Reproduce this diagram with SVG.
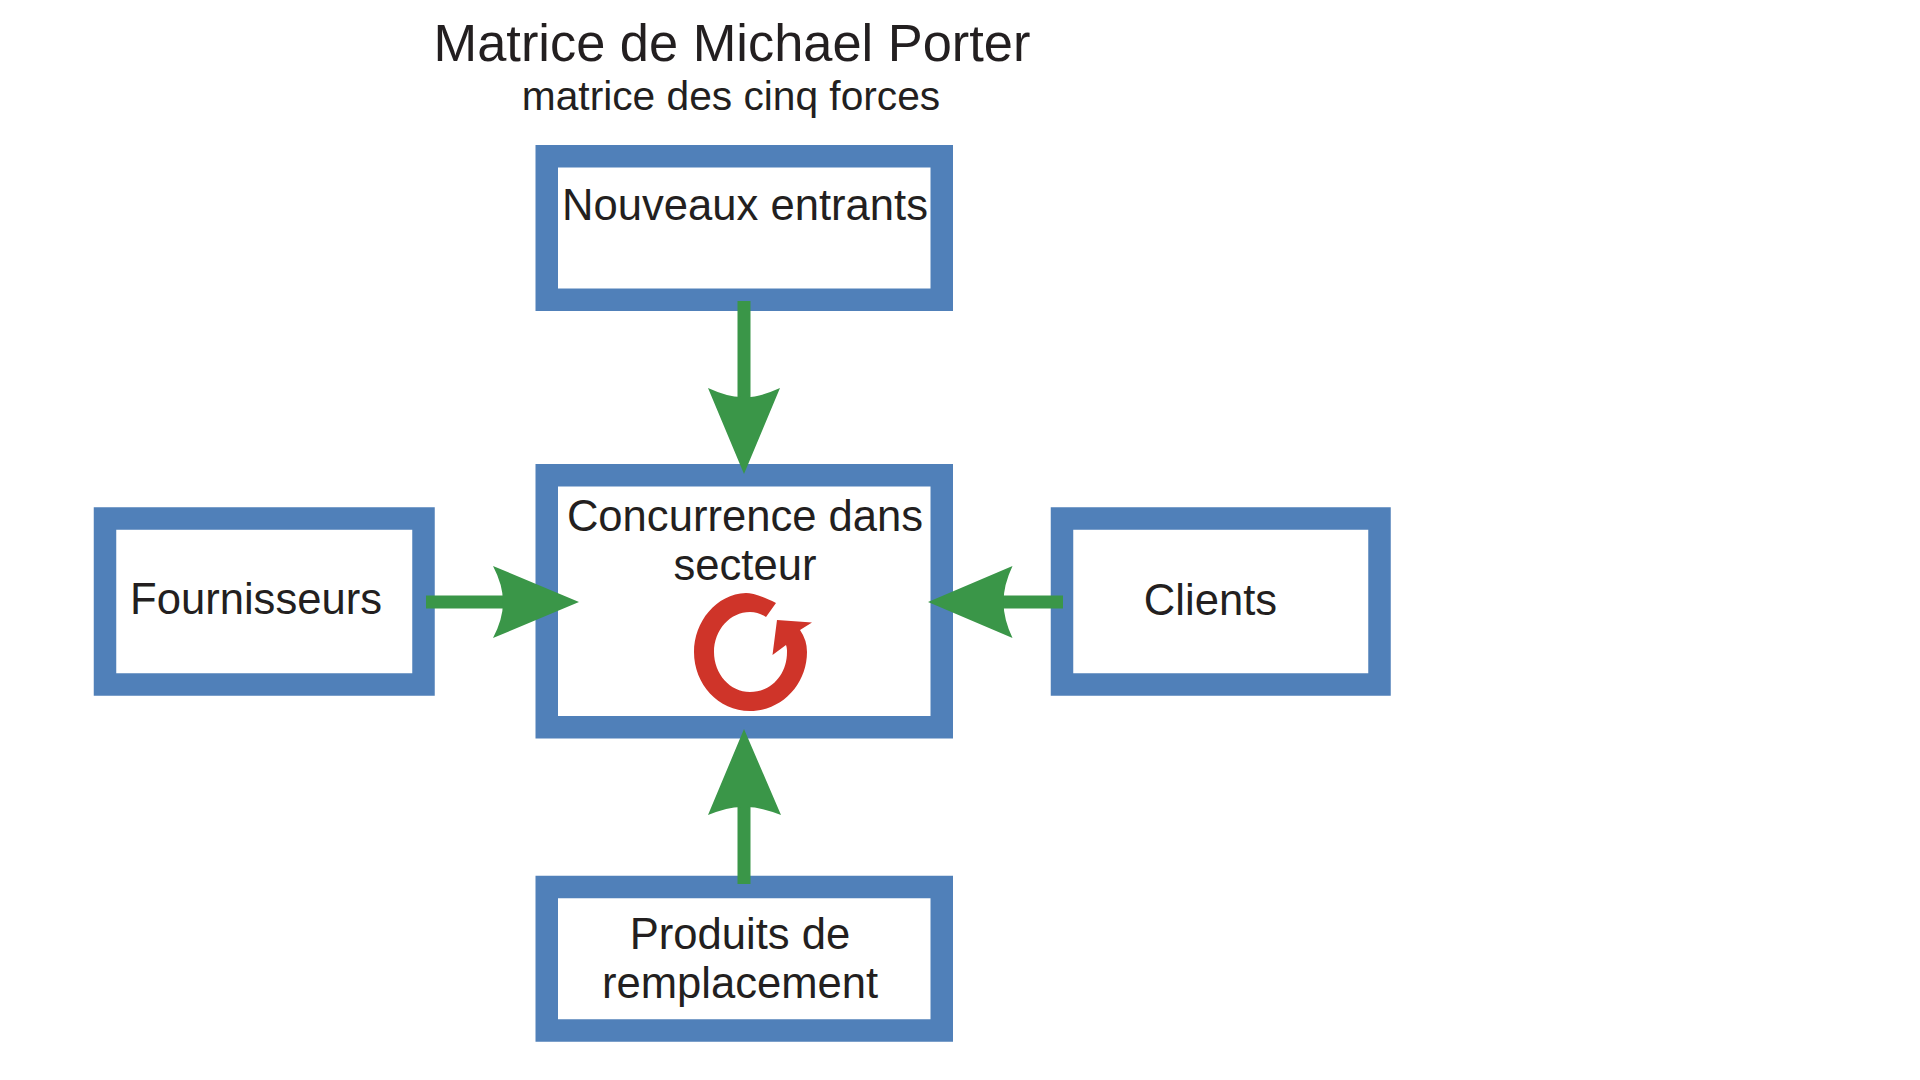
<svg xmlns="http://www.w3.org/2000/svg" width="1920" height="1080" viewBox="0 0 1920 1080">
<style>
text{font-family:"Liberation Sans",Arial,sans-serif;fill:#231f20;text-anchor:middle}
.l{font-size:43.6px}
.box{fill:#fff;stroke:#5080b9;stroke-width:22.5}
.shaft{stroke:#3a9648;stroke-width:13;fill:none}
.head{fill:#3a9648}
</style>
<rect width="1920" height="1080" fill="#fff"/>
<g id="title">
<text x="732" y="61" font-size="52.4">Matrice de Michael Porter</text>
<text x="731" y="110" font-size="40.7">matrice des cinq forces</text>
</g>
<g id="nouveaux-entrants">
<rect class="box" x="546.75" y="156.25" width="395" height="143.5"/>
<text class="l" x="745" y="220">Nouveaux entrants</text>
</g>
<g id="concurrence">
<rect class="box" x="546.75" y="475.25" width="395" height="252"/>
<text class="l" x="745" y="531">Concurrence dans</text>
<text class="l" x="745" y="580">secteur</text>
<path fill="#cf3429" d="M776,603 C762,596 752,593 746,593 C716,594 694,622 694,652 C694,684 718,711 750,711 C782,711 807,684 807,652 Q807,640 800,630 L812,622.5 L777,620 L772.5,655 L786,645 C787,648 787,650 787,652 C787,675 771,692 750,692 C730,692 714,674 714,652 C714,630 730,612 750,612 C756,612 761,614 766,617 Z"/>
</g>
<g id="fournisseurs">
<rect class="box" x="105" y="518.5" width="318.5" height="166"/>
<text class="l" x="256" y="614">Fournisseurs</text>
</g>
<g id="clients">
<rect class="box" x="1062" y="518.5" width="317.5" height="166"/>
<text class="l" x="1210.5" y="615">Clients</text>
</g>
<g id="produits-de-remplacement">
<rect class="box" x="546.75" y="887" width="395" height="143.5"/>
<text class="l" x="740" y="949">Produits de</text>
<text class="l" x="740" y="998">remplacement</text>
</g>
<g id="connectors">
<path class="shaft" d="M744,301V400"/>
<path class="head" d="M708,388Q730,398 744,397Q758,398 780,388L744,474Z"/>
<path class="shaft" d="M744,800V884"/>
<path class="head" d="M708,815Q730,806 744,807Q758,806 781,815L744,729Z"/>
<path class="shaft" d="M426,602H510"/>
<path class="head" d="M493,566Q503,585 503,602Q503,619 493,638L579,602Z"/>
<path class="shaft" d="M1063,602H990"/>
<path class="head" d="M1012.5,566Q1003.5,585 1003.5,602Q1003.5,619 1012.5,638L928,602Z"/>
</g>
</svg>
